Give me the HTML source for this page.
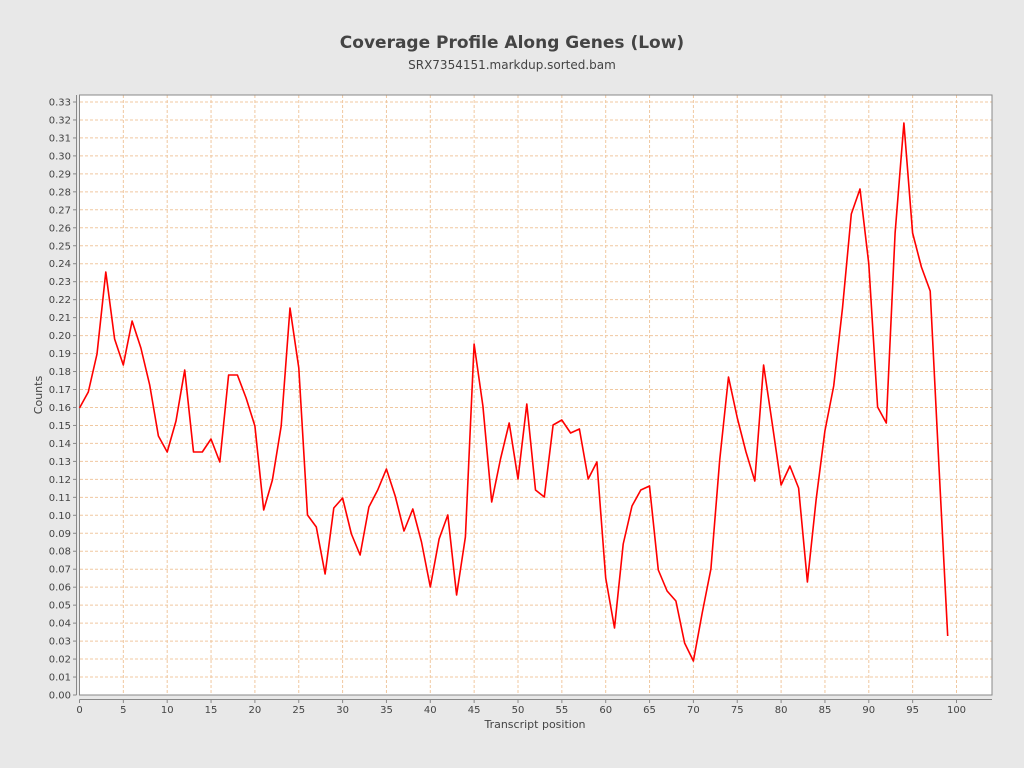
<!DOCTYPE html>
<html><head><meta charset="utf-8"><style>
body{margin:0;background:#e8e8e8;}
svg{display:block;font-family:"DejaVu Sans","Liberation Sans",sans-serif;}
</style></head><body>
<svg width="1024" height="768" xmlns="http://www.w3.org/2000/svg">
<rect width="1024" height="768" fill="#e8e8e8"/>
<text x="512" y="48" text-anchor="middle" font-size="17" font-weight="bold" fill="#444">Coverage Profile Along Genes (Low)</text>
<text x="512" y="69" text-anchor="middle" font-size="12" fill="#444">SRX7354151.markdup.sorted.bam</text>
<rect x="79.5" y="95" width="912.5" height="600" fill="#fff"/>
<g id="grid" stroke="#f0c8a0" stroke-width="1" stroke-dasharray="3,2"></g>
<rect x="79.5" y="95" width="912.5" height="600" fill="none" stroke="#888" stroke-width="1"/>
<line x1="79.5" y1="699.5" x2="992" y2="699.5" stroke="#888"/>
<line x1="76.5" y1="95" x2="76.5" y2="695" stroke="#888"/>
<g id="ticks" stroke="#888"></g>
<g id="labels" font-size="10" fill="#444"></g>
<text x="535" y="728" text-anchor="middle" font-size="11" fill="#444">Transcript position</text>
<text transform="translate(42,395) rotate(-90)" text-anchor="middle" font-size="11" fill="#444">Counts</text>
<polyline id="line" fill="none" stroke="#ff0000" stroke-width="1.6" stroke-linejoin="round"/>
</svg>
<script>
const ns="http://www.w3.org/2000/svg";
const g=document.getElementById('grid'),t=document.getElementById('ticks'),l=document.getElementById('labels');
function el(p,n,a,txt){const e=document.createElementNS(ns,n);for(const k in a)e.setAttribute(k,a[k]);if(txt!==undefined)e.textContent=txt;p.appendChild(e);}
const X=i=>79.5+i*8.77, Y=i=>695-i*17.97;
for(let i=0;i<=33;i++){const y=Y(i);
 if(i>0)el(g,'line',{x1:80,x2:992,y1:y,y2:y});
 el(t,'line',{x1:73,x2:76.5,y1:y,y2:y});
 el(l,'text',{x:71,y:y+3.5,'text-anchor':'end'},(i/100).toFixed(2));}
for(let i=0;i<=100;i+=5){const x=X(i);
 if(i>0)el(g,'line',{x1:x,x2:x,y1:95,y2:695});
 el(t,'line',{x1:x,x2:x,y1:699.5,y2:703});
 el(l,'text',{x:x,y:713,'text-anchor':'middle'},String(i));}
const py=[408,392,354,272,339,365,321,348,385,436,452,421,370,452,452,439,462,375,375,398,426,510,480,426,308,368,515,527,574,508,498,534,555,507,490,469,496,531,509,542,587,539,515,595,537,344,406,502,459,423,479,404,490,497,425,420,433,429,479,462,578,628,544,506,490,486,570,591,601,643,661,613,569,460,377,418,452,481,365,424,485,466,488,582,499,431,386,308,214,189,264,407,423,233,123,233,267,291,467,636];
document.getElementById('line').setAttribute('points',py.map((y,i)=>X(i).toFixed(1)+','+y).join(' '));
</script>
</body></html>
